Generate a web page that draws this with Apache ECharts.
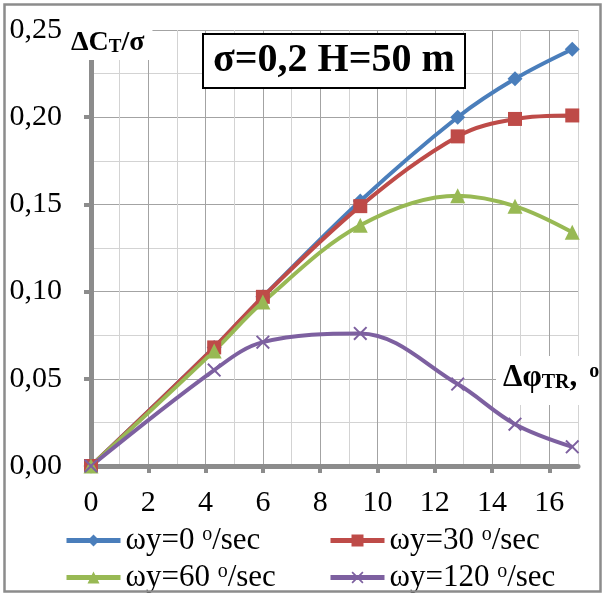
<!DOCTYPE html>
<html>
<head>
	<meta charset="utf-8">
	<title>ΔCT/σ</title>
	<style type="text/css">
		body{
			margin: 0px;
		}
		#chart{
			width: 606px;
			height: 596px;
		}
	</style>
	<script type="text/javascript" src="https://cdn.jsdelivr.net/npm/echarts@6/dist/echarts.min.js"></script>
</head>
<body>
	<div id="chart"></div>
	<script type="text/javascript">
		// Δφ_TR (deg) and ΔC_T/σ for each ωy
		var phi = [0, 4.3, 6.0, 9.4, 12.8, 14.8, 16.8];
		var ct0 = [0, 0.068, 0.097, 0.152, 0.200, 0.222, 0.239];
		var ct30 = [0, 0.068, 0.097, 0.149, 0.189, 0.199, 0.201];
		var ct60 = [0, 0.066, 0.094, 0.138, 0.155, 0.149, 0.134];
		var ct120 = [0, 0.055, 0.071, 0.076, 0.047, 0.024, 0.011];
		var names = ['ωy=0', 'ωy=30', 'ωy=60', 'ωy=120'];
		var xTicks = [0, 2, 4, 6, 8, 10, 12, 14, 16];
		var yTicks = [0, 0.05, 0.10, 0.15, 0.20, 0.25];

		var FONT = 'Liberation Serif';
		var colors = ['#4a7ebb', '#be4b48', '#98b954', '#7d60a0'];
		var xMark = 'path://M0,1L1,0L5,4L9,0L10,1L6,5L10,9L9,10L5,6L1,10L0,9L4,5Z';

		function pairs(xs, ys){
			var out = [];
			for(var i = 0; i < xs.length; i++){
				out.push([xs[i], ys[i]]);
			}
			return out;
		}

		function lineSeries(i, data, symbol, size){
			return {
				name: names[i],
				type: 'line',
				smooth: 0.35,
				data: pairs(phi, data),
				symbol: symbol,
				symbolSize: size,
				xAxisIndex: 0,
				yAxisIndex: 0,
				lineStyle: {width: 4, color: colors[i]},
				itemStyle: {color: colors[i]}
			};
		}

		function legendAt(i, left, top){
			return {
				data: [names[i]],
				left: left,
				top: top,
				padding: 0,
				itemWidth: 54,
				itemHeight: 15,
				itemGap: 0,
				lineStyle: {width: 5},
				formatter: function(name){
					return name + ' {sup|o}/sec';
				},
				textStyle: {
					fontFamily: FONT,
					fontSize: 31,
					color: '#000',
					rich: {
						sup: {fontFamily: FONT, fontSize: 20, color: '#000', verticalAlign: 'top'}
					}
				}
			};
		}

		var chart = echarts.init(document.getElementById('chart'));
		chart.setOption({
			backgroundColor: '#fff',
			animation: false,
			color: colors,
			grid: {
				left: 91,
				right: 28,
				top: 30,
				bottom: 130
			},
			title: [{
				text: '{b|ΔC}{s|T}{b|/σ}',
				left: 66,
				top: 24,
				padding: [5, 8, 3, 5],
				backgroundColor: '#fff',
				textStyle: {
					rich: {
						b: {fontFamily: FONT, fontSize: 28, fontWeight: 'bold', color: '#000'},
						s: {fontFamily: FONT, fontSize: 19, fontWeight: 'bold', color: '#000', verticalAlign: 'bottom'}
					}
				}
			}, {
				text: 'σ=0,2 H=50 m',
				left: 203,
				top: 34,
				padding: [7, 10, 7, 10],
				backgroundColor: '#fff',
				borderColor: '#000',
				borderWidth: 2,
				textStyle: {fontFamily: FONT, fontSize: 40, fontWeight: 'bold', color: '#000'}
			}, {
				text: '{b|Δφ}{s|TR}{b|,}{p|o}',
				left: 496,
				top: 356,
				padding: [6, 10, 12, 7],
				backgroundColor: '#fff',
				textStyle: {
					rich: {
						b: {fontFamily: FONT, fontSize: 31, fontWeight: 'bold', color: '#000'},
						s: {fontFamily: FONT, fontSize: 20, fontWeight: 'bold', color: '#000', verticalAlign: 'bottom'},
						p: {fontFamily: FONT, fontSize: 20, fontWeight: 'bold', color: '#000', verticalAlign: 'top', padding: [0, 0, 0, 12]}
					}
				}
			}],
			legend: [
				legendAt(0, 64, 525),
				legendAt(1, 328, 525),
				legendAt(2, 64, 562),
				legendAt(3, 328, 562)
			],
			xAxis: [{
				type: 'value',
				min: 0,
				max: 17,
				interval: 1,
				axisLine: {show: false},
				axisTick: {show: false},
				axisLabel: {show: false},
				splitLine: {lineStyle: {color: ['#a3a3a3', '#d3d3d3'], width: 1}}
			}, {
				type: 'value',
				min: 0,
				max: 17,
				interval: 2,
				position: 'bottom',
				axisLine: {onZero: false, lineStyle: {color: '#8c8c8c', width: 5}},
				axisTick: {show: true, length: 7, customValues: xTicks, lineStyle: {color: '#8c8c8c', width: 4}},
				axisLabel: {
					margin: 22,
					customValues: xTicks,
					fontFamily: FONT,
					fontSize: 30,
					color: '#000',
					formatter: function(v){
						return v > 16 ? '' : String(v);
					}
				},
				splitLine: {show: false}
			}],
			yAxis: [{
				type: 'value',
				min: 0,
				max: 0.25,
				interval: 0.025,
				axisLine: {show: false},
				axisTick: {show: false},
				axisLabel: {show: false},
				splitLine: {lineStyle: {color: ['#a3a3a3', '#d3d3d3'], width: 1}}
			}, {
				type: 'value',
				min: 0,
				max: 0.25,
				interval: 0.05,
				position: 'left',
				axisLine: {show: true, onZero: false, lineStyle: {color: '#8c8c8c', width: 5}},
				axisTick: {show: true, length: 7, customValues: yTicks, lineStyle: {color: '#8c8c8c', width: 4}},
				axisLabel: {
					margin: 29,
					customValues: yTicks,
					fontFamily: FONT,
					fontSize: 30,
					color: '#000',
					formatter: function(v){
						return v.toFixed(2).replace('.', ',');
					}
				},
				splitLine: {show: false}
			}],
			series: [
				lineSeries(0, ct0, 'diamond', 15),
				lineSeries(1, ct30, 'rect', 14),
				lineSeries(2, ct60, 'triangle', 15),
				lineSeries(3, ct120, xMark, 14)
			],
			graphic: [{
				type: 'rect',
				z: 100,
				shape: {x: 4.5, y: 4.5, width: 596, height: 587},
				style: {fill: null, stroke: '#8c8c8c', lineWidth: 2.5}
			}]
		});
	</script>
</body>
</html>
